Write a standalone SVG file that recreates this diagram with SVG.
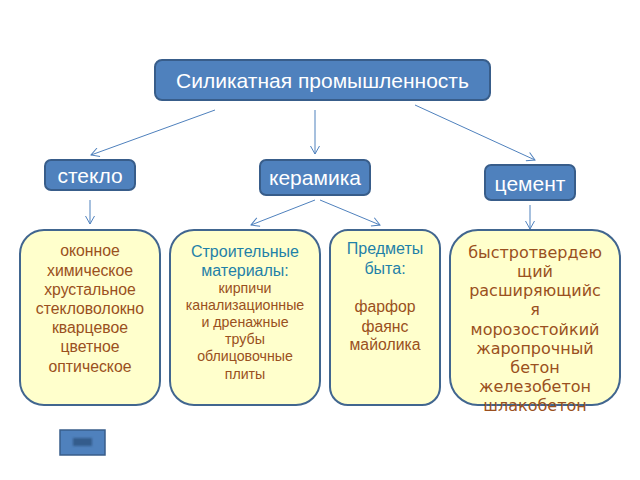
<svg xmlns="http://www.w3.org/2000/svg" width="640" height="480" viewBox="0 0 640 480">
<style>
text{font-family:"Liberation Sans",Arial,sans-serif;text-anchor:middle}
.h{fill:#4f81bd;stroke:#385d8a;stroke-width:2}
.b{fill:#ffffcc;stroke:#41668f;stroke-width:2}
.w{fill:#fff;font-size:21px}
.c{fill:#9a5020;font-size:15.800px}
.t{fill:#1f81a8;font-size:16px}
.s{fill:#9a5020;font-size:14.200px}
.d{fill:#9a5020;font-size:16px;font-family:"DejaVu Sans",sans-serif}
.l{fill:none;stroke:#4f81bd;stroke-width:1;marker-end:url(#a)}
</style>
<defs>
<marker id="a" viewBox="0 0 10 10" refX="9" refY="5" markerWidth="10" markerHeight="10" orient="auto" markerUnits="userSpaceOnUse">
<path d="M1 0.5L9 5L1 9.5" fill="none" stroke="#4f81bd" stroke-width="1"/>
</marker>
<filter id="f" x="-30%" y="-30%" width="160%" height="160%"><feGaussianBlur stdDeviation="1"/></filter>
</defs>
<rect width="640" height="480" fill="#fff"/>
<g id="connectors">
<path class="l" d="M215 110L91 155"/>
<path class="l" d="M315 110V154"/>
<path class="l" d="M415 105L535 160"/>
<path class="l" d="M90 200V224"/>
<path class="l" d="M315 200L251 225"/>
<path class="l" d="M320 200L380 225"/>
<path class="l" d="M530 205V229"/>
</g>
<g id="top"><rect class="h" x="155" y="60" width="335" height="40" rx="7"/><text class="w" x="322.500" y="88">Силикатная промышленность</text></g>
<g id="steklo"><rect class="h" x="45" y="160" width="90" height="30" rx="6"/><text class="w" x="90" y="183">стекло</text></g>
<g id="keramika"><rect class="h" x="260" y="160" width="110" height="35" rx="6"/><text class="w" x="315" y="185">керамика</text></g>
<g id="cement"><rect class="h" x="485" y="165" width="90" height="35" rx="6"/><text class="w" x="530" y="191">цемент</text></g>
<g id="box1"><rect class="b" x="20" y="230" width="140" height="175" rx="24"/>
<text class="c"><tspan x="90" y="256">оконное</tspan><tspan x="90" y="276">химическое</tspan><tspan x="90" y="295">хрустальное</tspan><tspan x="90" y="314">стекловолокно</tspan><tspan x="90" y="333">кварцевое</tspan><tspan x="90" y="352">цветное</tspan><tspan x="90" y="372">оптическое</tspan></text></g>
<g id="box2"><rect class="b" x="170" y="230" width="150" height="175" rx="24"/>
<text class="t"><tspan x="245" y="257">Строительные</tspan><tspan x="245" y="276">материалы:</tspan></text>
<text class="s"><tspan x="245" y="293">кирпичи</tspan><tspan x="245" y="310">канализационные</tspan><tspan x="245" y="327">и дренажные</tspan><tspan x="245" y="344">трубы</tspan><tspan x="245" y="361">облицовочные</tspan><tspan x="245" y="379">плиты</tspan></text></g>
<g id="box3"><rect class="b" x="330" y="230" width="110" height="175" rx="18"/>
<text class="t"><tspan x="385" y="254">Предметы</tspan><tspan x="385" y="274">быта:</tspan></text>
<text class="c"><tspan x="385" y="312">фарфор</tspan><tspan x="385" y="332">фаянс</tspan><tspan x="385" y="350">майолика</tspan></text></g>
<g id="box4"><rect class="b" x="450" y="230" width="170" height="175" rx="28"/>
<text class="d"><tspan x="535" y="258">быстротвердею</tspan><tspan x="535" y="277">щий</tspan><tspan x="535" y="296">расширяющийс</tspan><tspan x="535" y="315">я</tspan><tspan x="535" y="335">морозостойкий</tspan><tspan x="535" y="354">жаропрочный</tspan><tspan x="535" y="373">бетон</tspan><tspan x="535" y="392">железобетон</tspan><tspan x="535" y="411">шлакобетон</tspan></text></g>
<g id="button"><rect x="60" y="430" width="45" height="25" fill="#4f81bd" stroke="#385d8a" stroke-width="1.500"/><rect x="73" y="438" width="19" height="8" fill="#2f5280" opacity=".8" filter="url(#f)"/></g>
</svg>
